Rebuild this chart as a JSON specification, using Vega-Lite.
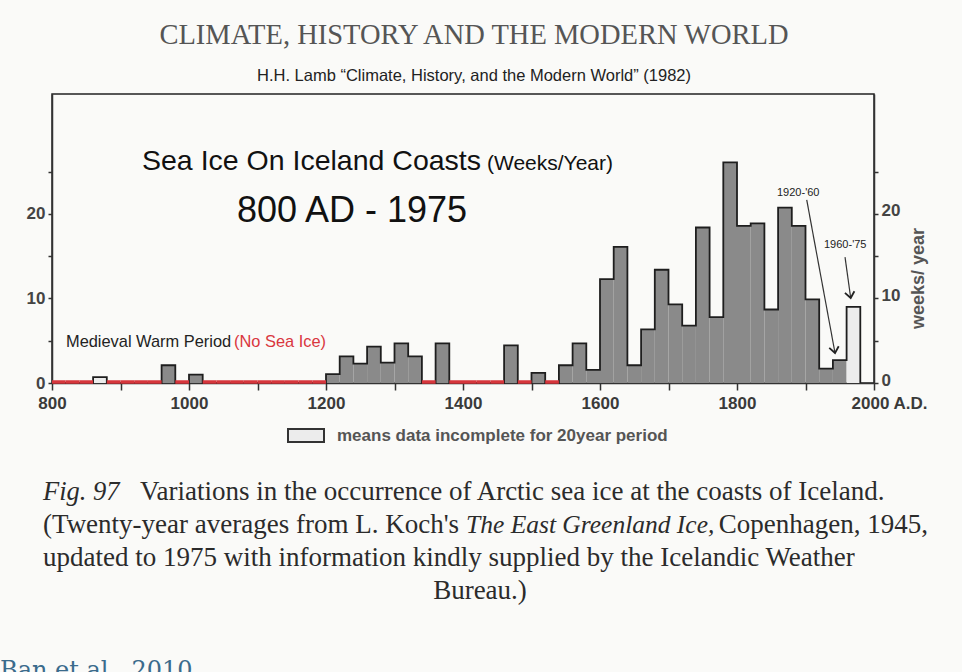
{
  "$schema": "https://vega.github.io/schema/vega-lite/v6.json",
  "width": 822,
  "height": 289,
  "autosize": {"type": "none"},
  "padding": {"left": 52, "top": 94, "right": 88, "bottom": 289},
  "background": "#fafaf8",
  "title": {
    "text": "CLIMATE, HISTORY AND THE MODERN WORLD",
    "subtitle": "H.H. Lamb “Climate, History, and the Modern World” (1982)",
    "font": "Liberation Serif",
    "fontSize": 28.5,
    "fontWeight": "normal",
    "color": "#555555",
    "subtitleFont": "Liberation Sans",
    "subtitleFontSize": 16.5,
    "subtitleColor": "#222222",
    "subtitlePadding": 18,
    "offset": 10,
    "anchor": "middle",
    "dx": 11
  },
  "config": {"view": {"stroke": "#222222", "strokeWidth": 1.5}},
  "datasets": {
    "bins": [
      {"start": 800, "end": 820, "weeks": 0, "status": "complete"},
      {"start": 820, "end": 840, "weeks": 0, "status": "complete"},
      {"start": 840, "end": 860, "weeks": 0, "status": "complete"},
      {"start": 860, "end": 880, "weeks": 0.7, "status": "incomplete"},
      {"start": 880, "end": 900, "weeks": 0, "status": "complete"},
      {"start": 900, "end": 920, "weeks": 0, "status": "complete"},
      {"start": 920, "end": 940, "weeks": 0, "status": "complete"},
      {"start": 940, "end": 960, "weeks": 0, "status": "complete"},
      {"start": 960, "end": 980, "weeks": 2.1, "status": "complete"},
      {"start": 980, "end": 1000, "weeks": 0, "status": "complete"},
      {"start": 1000, "end": 1020, "weeks": 1.0, "status": "complete"},
      {"start": 1020, "end": 1040, "weeks": 0, "status": "complete"},
      {"start": 1040, "end": 1060, "weeks": 0, "status": "complete"},
      {"start": 1060, "end": 1080, "weeks": 0, "status": "complete"},
      {"start": 1080, "end": 1100, "weeks": 0, "status": "complete"},
      {"start": 1100, "end": 1120, "weeks": 0, "status": "complete"},
      {"start": 1120, "end": 1140, "weeks": 0, "status": "complete"},
      {"start": 1140, "end": 1160, "weeks": 0, "status": "complete"},
      {"start": 1160, "end": 1180, "weeks": 0, "status": "complete"},
      {"start": 1180, "end": 1200, "weeks": 0, "status": "complete"},
      {"start": 1200, "end": 1220, "weeks": 1.05, "status": "complete"},
      {"start": 1220, "end": 1240, "weeks": 3.15, "status": "complete"},
      {"start": 1240, "end": 1260, "weeks": 2.3, "status": "complete"},
      {"start": 1260, "end": 1280, "weeks": 4.3, "status": "complete"},
      {"start": 1280, "end": 1300, "weeks": 2.4, "status": "complete"},
      {"start": 1300, "end": 1320, "weeks": 4.7, "status": "complete"},
      {"start": 1320, "end": 1340, "weeks": 3.15, "status": "complete"},
      {"start": 1340, "end": 1360, "weeks": 0, "status": "complete"},
      {"start": 1360, "end": 1380, "weeks": 4.7, "status": "complete"},
      {"start": 1380, "end": 1400, "weeks": 0, "status": "complete"},
      {"start": 1400, "end": 1420, "weeks": 0, "status": "complete"},
      {"start": 1420, "end": 1440, "weeks": 0, "status": "complete"},
      {"start": 1440, "end": 1460, "weeks": 0, "status": "complete"},
      {"start": 1460, "end": 1480, "weeks": 4.45, "status": "complete"},
      {"start": 1480, "end": 1500, "weeks": 0, "status": "complete"},
      {"start": 1500, "end": 1520, "weeks": 1.2, "status": "complete"},
      {"start": 1520, "end": 1540, "weeks": 0, "status": "complete"},
      {"start": 1540, "end": 1560, "weeks": 2.1, "status": "complete"},
      {"start": 1560, "end": 1580, "weeks": 4.7, "status": "complete"},
      {"start": 1580, "end": 1600, "weeks": 1.55, "status": "complete"},
      {"start": 1600, "end": 1620, "weeks": 12.3, "status": "complete"},
      {"start": 1620, "end": 1640, "weeks": 16.1, "status": "complete"},
      {"start": 1640, "end": 1660, "weeks": 2.1, "status": "complete"},
      {"start": 1660, "end": 1680, "weeks": 6.35, "status": "complete"},
      {"start": 1680, "end": 1700, "weeks": 13.4, "status": "complete"},
      {"start": 1700, "end": 1720, "weeks": 9.3, "status": "complete"},
      {"start": 1720, "end": 1740, "weeks": 6.8, "status": "complete"},
      {"start": 1740, "end": 1760, "weeks": 18.4, "status": "complete"},
      {"start": 1760, "end": 1780, "weeks": 7.8, "status": "complete"},
      {"start": 1780, "end": 1800, "weeks": 26.1, "status": "complete"},
      {"start": 1800, "end": 1820, "weeks": 18.6, "status": "complete"},
      {"start": 1820, "end": 1840, "weeks": 18.9, "status": "complete"},
      {"start": 1840, "end": 1860, "weeks": 8.7, "status": "complete"},
      {"start": 1860, "end": 1880, "weeks": 20.75, "status": "complete"},
      {"start": 1880, "end": 1900, "weeks": 18.6, "status": "complete"},
      {"start": 1900, "end": 1920, "weeks": 9.9, "status": "complete"},
      {"start": 1920, "end": 1940, "weeks": 1.7, "status": "complete"},
      {"start": 1940, "end": 1960, "weeks": 2.7, "status": "complete"},
      {"start": 1960, "end": 1980, "weeks": 9.0, "status": "incomplete"},
      {"start": 1980, "end": 2000, "weeks": 0, "status": "complete"}
    ]
  },
  "layer": [
    {
      "data": {"name": "bins"},
      "mark": {"type": "rect"},
      "encoding": {
        "x": {
          "field": "start", "type": "quantitative",
          "scale": {"domain": [800, 2000], "nice": false},
          "axis": {
            "values": [800, 900, 1000, 1100, 1200, 1300, 1400, 1500, 1600, 1700, 1800, 1900, 2000],
            "format": "d",
            "labelExpr": "datum.value % 200 ? '' : (datum.value == 2000 ? '2000 A.D.' : datum.label)",
            "title": null, "grid": false,
            "tickSize": 7, "tickWidth": 1.5, "tickColor": "#333333",
            "domainColor": "#333333", "domainWidth": 1.5,
            "labelPadding": 5, "labelFont": "Liberation Sans", "labelFontSize": 17,
            "labelFontWeight": "bold", "labelColor": "#3a3a3a",
            "labelFlush": false, "labelOverlap": false,
            "labelOffset": {"condition": {"test": "datum.value == 2000", "value": 15}, "value": 0}
          }
        },
        "x2": {"field": "end"},
        "y": {
          "field": "weeks", "type": "quantitative",
          "scale": {"domain": [0, 34.2], "nice": false},
          "axis": {
            "orient": "left",
            "values": [0, 5, 10, 15, 20, 25],
            "labelExpr": "datum.value % 10 ? '' : datum.label",
            "title": null, "grid": false,
            "tickSize": 4, "tickWidth": 1.5, "tickColor": "#333333",
            "domainColor": "#333333", "domainWidth": 1.5,
            "labelPadding": 3, "labelFont": "Liberation Sans", "labelFontSize": 17,
            "labelFontWeight": "bold", "labelColor": "#444444"
          }
        },
        "y2": {"datum": 0},
        "fill": {
          "field": "status", "type": "nominal",
          "scale": {"domain": ["complete", "incomplete"], "range": ["#8a8a8a", "#ececec"]},
          "legend": {
            "values": ["incomplete"],
            "orient": "none", "legendX": 235, "legendY": 322.5,
            "title": null, "padding": 0,
            "symbolType": "M-1,-0.36H1V0.36H-1Z", "symbolSize": 1296,
            "symbolStrokeColor": "#333333", "symbolStrokeWidth": 2,
            "labelExpr": "'means data incomplete for 20year period'",
            "labelFont": "Liberation Sans", "labelFontSize": 17, "labelFontWeight": "bold",
            "labelColor": "#555555", "labelOffset": 12, "labelLimit": 500
          }
        }
      }
    },
    {
      "data": {"name": "bins"},
      "mark": {"type": "line", "interpolate": "step-after", "color": "#1e1e1e", "strokeWidth": 1.8},
      "encoding": {
        "x": {"field": "start", "type": "quantitative", "scale": {"domain": [800, 2000], "nice": false}, "axis": null},
        "y": {
          "field": "weeks", "type": "quantitative",
          "scale": {"domain": [0, 34.2], "nice": false},
          "axis": {
            "orient": "right",
            "values": [0, 5, 10, 15, 20, 25],
            "labelExpr": "datum.value % 10 ? '' : datum.label",
            "title": "weeks/ year", "grid": false,
            "tickSize": 4, "tickWidth": 1.5, "tickColor": "#333333",
            "domainColor": "#333333", "domainWidth": 1.5,
            "labelPadding": 3, "labelOffset": -3, "labelFont": "Liberation Sans", "labelFontSize": 17,
            "labelFontWeight": "bold", "labelColor": "#444444",
            "titleFont": "Liberation Sans", "titleFontSize": 18, "titleFontWeight": "bold",
            "titleColor": "#555555", "titleAngle": 270, "titleX": 44, "titleY": 184,
            "titleAlign": "center", "titleBaseline": "middle"
          }
        }
      }
    },
    {
      "data": {"name": "bins"},
      "transform": [{"filter": "datum.weeks == 0 && datum.start < 1540"}],
      "mark": {"type": "rule", "color": "#d6363c", "strokeWidth": 3.5, "yOffset": -1},
      "encoding": {
        "x": {"field": "start", "type": "quantitative", "scale": {"domain": [800, 2000], "nice": false}, "axis": null},
        "x2": {"field": "end"},
        "y": {"datum": 0, "type": "quantitative", "scale": {"domain": [0, 34.2], "nice": false}, "axis": null}
      }
    },
    {
      "data": {"values": [
        {"x0": 1901.8, "y0": 21.66, "x1": 1943.1, "y1": 3.55},
        {"x0": 1957.7, "y0": 14.9, "x1": 1966.0, "y1": 10.06}
      ]},
      "mark": {"type": "rule", "color": "#333333", "strokeWidth": 1.2},
      "encoding": {
        "x": {"field": "x0", "type": "quantitative", "scale": {"domain": [800, 2000], "nice": false}, "axis": null},
        "y": {"field": "y0", "type": "quantitative", "scale": {"domain": [0, 34.2], "nice": false}, "axis": null},
        "x2": {"field": "x1"},
        "y2": {"field": "y1"}
      }
    },
    {
      "data": {"values": [
        {"x1": 1943.1, "y1": 3.55},
        {"x1": 1966.0, "y1": 10.06}
      ]},
      "mark": {"type": "point", "shape": "M-0.8,-1L0,0L0.8,-1", "size": 144, "filled": false, "stroke": "#222222", "strokeWidth": 1.8, "angle": 350, "opacity": 1},
      "encoding": {
        "x": {"field": "x1", "type": "quantitative", "scale": {"domain": [800, 2000], "nice": false}, "axis": null},
        "y": {"field": "y1", "type": "quantitative", "scale": {"domain": [0, 34.2], "nice": false}, "axis": null}
      }
    },
    {
      "data": {"values": [{"label": "Sea Ice On Iceland Coasts", "year": 931.4, "weeks": 25.2}]},
      "mark": {"type": "text", "align": "left", "baseline": "alphabetic", "font": "Liberation Sans", "fontSize": 28.5, "color": "#111111"},
      "encoding": {
        "x": {"field": "year", "type": "quantitative", "scale": {"domain": [800, 2000], "nice": false}, "axis": null},
        "y": {"field": "weeks", "type": "quantitative", "scale": {"domain": [0, 34.2], "nice": false}, "axis": null},
        "text": {"field": "label"}
      }
    },
    {
      "data": {"values": [{"label": "(Weeks/Year)", "year": 1435.0, "weeks": 25.2}]},
      "mark": {"type": "text", "align": "left", "baseline": "alphabetic", "font": "Liberation Sans", "fontSize": 21, "color": "#111111"},
      "encoding": {
        "x": {"field": "year", "type": "quantitative", "scale": {"domain": [800, 2000], "nice": false}, "axis": null},
        "y": {"field": "weeks", "type": "quantitative", "scale": {"domain": [0, 34.2], "nice": false}, "axis": null},
        "text": {"field": "label"}
      }
    },
    {
      "data": {"values": [{"label": "800 AD - 1975", "year": 1238.0, "weeks": 19.05}]},
      "mark": {"type": "text", "align": "center", "baseline": "alphabetic", "font": "Liberation Sans", "fontSize": 36, "color": "#111111"},
      "encoding": {
        "x": {"field": "year", "type": "quantitative", "scale": {"domain": [800, 2000], "nice": false}, "axis": null},
        "y": {"field": "weeks", "type": "quantitative", "scale": {"domain": [0, 34.2], "nice": false}, "axis": null},
        "text": {"field": "label"}
      }
    },
    {
      "data": {"values": [{"label": "Medieval Warm Period", "year": 820.4, "weeks": 4.3}]},
      "mark": {"type": "text", "align": "left", "baseline": "alphabetic", "font": "Liberation Sans", "fontSize": 16.4, "color": "#222222"},
      "encoding": {
        "x": {"field": "year", "type": "quantitative", "scale": {"domain": [800, 2000], "nice": false}, "axis": null},
        "y": {"field": "weeks", "type": "quantitative", "scale": {"domain": [0, 34.2], "nice": false}, "axis": null},
        "text": {"field": "label"}
      }
    },
    {
      "data": {"values": [{"label": "(No Sea Ice)", "year": 1065.7, "weeks": 4.3}]},
      "mark": {"type": "text", "align": "left", "baseline": "alphabetic", "font": "Liberation Sans", "fontSize": 16.4, "color": "#d9363e"},
      "encoding": {
        "x": {"field": "year", "type": "quantitative", "scale": {"domain": [800, 2000], "nice": false}, "axis": null},
        "y": {"field": "weeks", "type": "quantitative", "scale": {"domain": [0, 34.2], "nice": false}, "axis": null},
        "text": {"field": "label"}
      }
    },
    {
      "data": {"values": [
        {"label": "1920-'60", "year": 1858.4, "weeks": 22.5},
        {"label": "1960-'75", "year": 1927.0, "weeks": 16.3}
      ]},
      "mark": {"type": "text", "align": "left", "baseline": "middle", "font": "Liberation Sans", "fontSize": 11, "color": "#222222"},
      "encoding": {
        "x": {"field": "year", "type": "quantitative", "scale": {"domain": [800, 2000], "nice": false}, "axis": null},
        "y": {"field": "weeks", "type": "quantitative", "scale": {"domain": [0, 34.2], "nice": false}, "axis": null},
        "text": {"field": "label"}
      }
    },
    {
      "data": {"values": [
        {"label": "Fig. 97", "year": 786.9, "weeks": -13.85}
      ]},
      "mark": {"type": "text", "align": "left", "baseline": "alphabetic", "font": "Liberation Serif", "fontSize": 26.5, "fontStyle": "italic", "color": "#2b2b2b"},
      "encoding": {
        "x": {"field": "year", "type": "quantitative", "scale": {"domain": [800, 2000], "nice": false}, "axis": null},
        "y": {"field": "weeks", "type": "quantitative", "scale": {"domain": [0, 34.2], "nice": false}, "axis": null},
        "text": {"field": "label"}
      }
    },
    {
      "data": {"values": [
        {"label": "The East Greenland Ice,", "year": 1404.4, "weeks": -17.75}
      ]},
      "mark": {"type": "text", "align": "left", "baseline": "alphabetic", "font": "Liberation Serif", "fontSize": 25.5, "fontStyle": "italic", "color": "#2b2b2b"},
      "encoding": {
        "x": {"field": "year", "type": "quantitative", "scale": {"domain": [800, 2000], "nice": false}, "axis": null},
        "y": {"field": "weeks", "type": "quantitative", "scale": {"domain": [0, 34.2], "nice": false}, "axis": null},
        "text": {"field": "label"}
      }
    },
    {
      "data": {"values": [
        {"label": "Variations in the occurrence of Arctic sea ice at the coasts of Iceland.", "year": 928.5, "weeks": -13.85},
        {"label": "(Twenty-year averages from L. Koch's", "year": 786.9, "weeks": -17.75},
        {"label": "updated to 1975 with information kindly supplied by the Icelandic Weather", "year": 786.9, "weeks": -21.66}
      ]},
      "mark": {"type": "text", "align": "left", "baseline": "alphabetic", "font": "Liberation Serif", "fontSize": 27, "color": "#2b2b2b"},
      "encoding": {
        "x": {"field": "year", "type": "quantitative", "scale": {"domain": [800, 2000], "nice": false}, "axis": null},
        "y": {"field": "weeks", "type": "quantitative", "scale": {"domain": [0, 34.2], "nice": false}, "axis": null},
        "text": {"field": "label"}
      }
    },
    {
      "data": {"values": [
        {"label": "Copenhagen, 1945,", "year": 2078.8, "weeks": -17.75}
      ]},
      "mark": {"type": "text", "align": "right", "baseline": "alphabetic", "font": "Liberation Serif", "fontSize": 27, "color": "#2b2b2b"},
      "encoding": {
        "x": {"field": "year", "type": "quantitative", "scale": {"domain": [800, 2000], "nice": false}, "axis": null},
        "y": {"field": "weeks", "type": "quantitative", "scale": {"domain": [0, 34.2], "nice": false}, "axis": null},
        "text": {"field": "label"}
      }
    },
    {
      "data": {"values": [{"label": "Bureau.)", "year": 1424.8, "weeks": -25.56}]},
      "mark": {"type": "text", "align": "center", "baseline": "alphabetic", "font": "Liberation Serif", "fontSize": 27, "color": "#2b2b2b"},
      "encoding": {
        "x": {"field": "year", "type": "quantitative", "scale": {"domain": [800, 2000], "nice": false}, "axis": null},
        "y": {"field": "weeks", "type": "quantitative", "scale": {"domain": [0, 34.2], "nice": false}, "axis": null},
        "text": {"field": "label"}
      }
    },
    {
      "data": {"values": [{"label": "Ban et al., 2010", "year": 724.1, "weeks": -34.9}]},
      "mark": {"type": "text", "align": "left", "baseline": "alphabetic", "font": "DejaVu Serif", "fontSize": 24, "color": "#3a6b8c"},
      "encoding": {
        "x": {"field": "year", "type": "quantitative", "scale": {"domain": [800, 2000], "nice": false}, "axis": null},
        "y": {"field": "weeks", "type": "quantitative", "scale": {"domain": [0, 34.2], "nice": false}, "axis": null},
        "text": {"field": "label"}
      }
    }
  ],
  "resolve": {"axis": {"x": "independent", "y": "independent"}}
}
